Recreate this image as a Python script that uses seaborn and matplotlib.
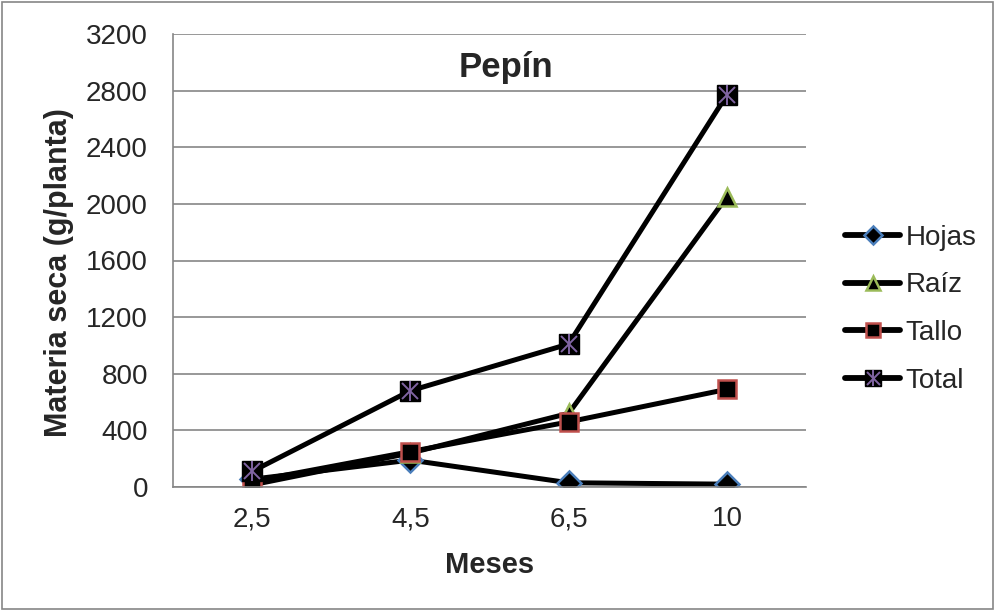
import matplotlib
matplotlib.use('Agg')
import matplotlib.pyplot as plt
from matplotlib.lines import Line2D
from matplotlib.patches import Rectangle
import pandas as pd
import seaborn as sns

meses = ['2,5', '4,5', '6,5', '10']
hojas = [55, 190, 30, 20]
raiz = [15, 240, 520, 2050]
tallo = [40, 250, 460, 690]
total = [110, 680, 1010, 2770]
y_ticks = [0, 400, 800, 1200, 1600, 2000, 2400, 2800, 3200]

sns.set_theme(style='white')
plt.rcParams['font.family'] = ['Liberation Sans', 'DejaVu Sans']

pos = list(range(len(meses)))
df = pd.DataFrame({'pos': pos * 4,
                   'valor': hojas + raiz + tallo + total,
                   'serie': ['Hojas'] * 4 + ['Raíz'] * 4 + ['Tallo'] * 4 + ['Total'] * 4})

fig = plt.figure(figsize=(9.95, 6.11), dpi=100)
ax = fig.add_axes([173 / 995, 1 - 487 / 611, (806 - 173) / 995, (487 - 34) / 611])

LW = 3.6
estilos = {
    'Hojas': dict(marker='D', ms=12, mfc='black', mec='#4a7ebb', mew=1.8),
    'Raíz': dict(marker='^', ms=13, mfc='black', mec='#9bbb59', mew=1.8),
    'Tallo': dict(marker='s', ms=13, mfc='black', mec='#c0504d', mew=1.8),
    'Total': dict(marker='s', ms=14, mfc='black', mec='black', mew=1.0),
}
for nombre in ['Hojas', 'Raíz', 'Tallo', 'Total']:
    sub = df[df['serie'] == nombre]
    sns.lineplot(data=sub, x='pos', y='valor', ax=ax, color='black', lw=LW,
                 legend=False, **estilos[nombre])

# purple star over the Total markers
estrella = [dict(marker='x', ms=12, mec='#8064a2', mew=1.4),
            dict(marker='|', ms=15, mec='#8064a2', mew=1.4)]
sub = df[df['serie'] == 'Total']
for e in estrella:
    ax.plot(sub['pos'], sub['valor'], ls='none', **e)

ax.set_xlim(-0.5, len(meses) - 0.5)
ax.set_ylim(0, 3200)
ax.set_yticks(y_ticks)
ax.set_yticklabels([str(v) for v in y_ticks], fontsize=20)
ax.set_xticks(pos)
ax.set_xticklabels(meses, fontsize=20)
ax.set_xticks([p - 0.5 for p in pos] + [len(meses) - 0.5], minor=True)
ax.tick_params(axis='x', which='major', length=0, pad=14)
ax.tick_params(axis='x', which='minor', length=5, color='#868686', width=1.2, direction='out')
ax.tick_params(axis='y', length=5, color='#868686', width=1.2, direction='out', pad=13)
ax.grid(axis='y', color='#868686', lw=1.2)
ax.set_axisbelow(True)
for s in ['top', 'right']:
    ax.spines[s].set_visible(False)
for s in ['left', 'bottom']:
    ax.spines[s].set_color('#868686')
    ax.spines[s].set_linewidth(1.2)
ax.set_xlabel('')
ax.set_ylabel('')

fig.text(490 / 995, 1 - 565 / 611, 'Meses', ha='center', va='center',
         fontsize=21, fontweight='bold')
fig.text(59 / 995, 1 - 273 / 611, 'Materia seca (g/planta)', rotation=90,
         ha='center', va='center', fontsize=22, fontweight='bold')
fig.text(506 / 995, 1 - 67 / 611, 'Pepín', ha='center', va='center',
         fontsize=25, fontweight='bold')

# legend markers are a bit smaller than the ones on the plot
def mini(d, f=0.78):
    d = dict(d)
    d['ms'] = d['ms'] * f
    return d

handles = [Line2D([], [], color='black', lw=LW + 0.6, solid_capstyle='round', **mini(estilos[n]))
           for n in ['Hojas', 'Raíz', 'Tallo']]
h_total = tuple([Line2D([], [], color='black', lw=LW + 0.6, solid_capstyle='round',
                        **mini(estilos['Total']))] +
                [Line2D([], [], ls='none', **mini(e)) for e in estrella])
fig.legend(handles + [h_total], ['Hojas', 'Raíz', 'Tallo', 'Total'],
           loc='center left', bbox_to_anchor=(0.824, 0.494), frameon=False,
           fontsize=20, handlelength=2.0, handletextpad=0.18, labelspacing=0.78)

fig.patches.append(Rectangle((0.002, 0.004), 0.996, 0.993, transform=fig.transFigure,
                             fill=False, edgecolor='#868686', lw=1.2))

fig.savefig('out.png', dpi=100)
